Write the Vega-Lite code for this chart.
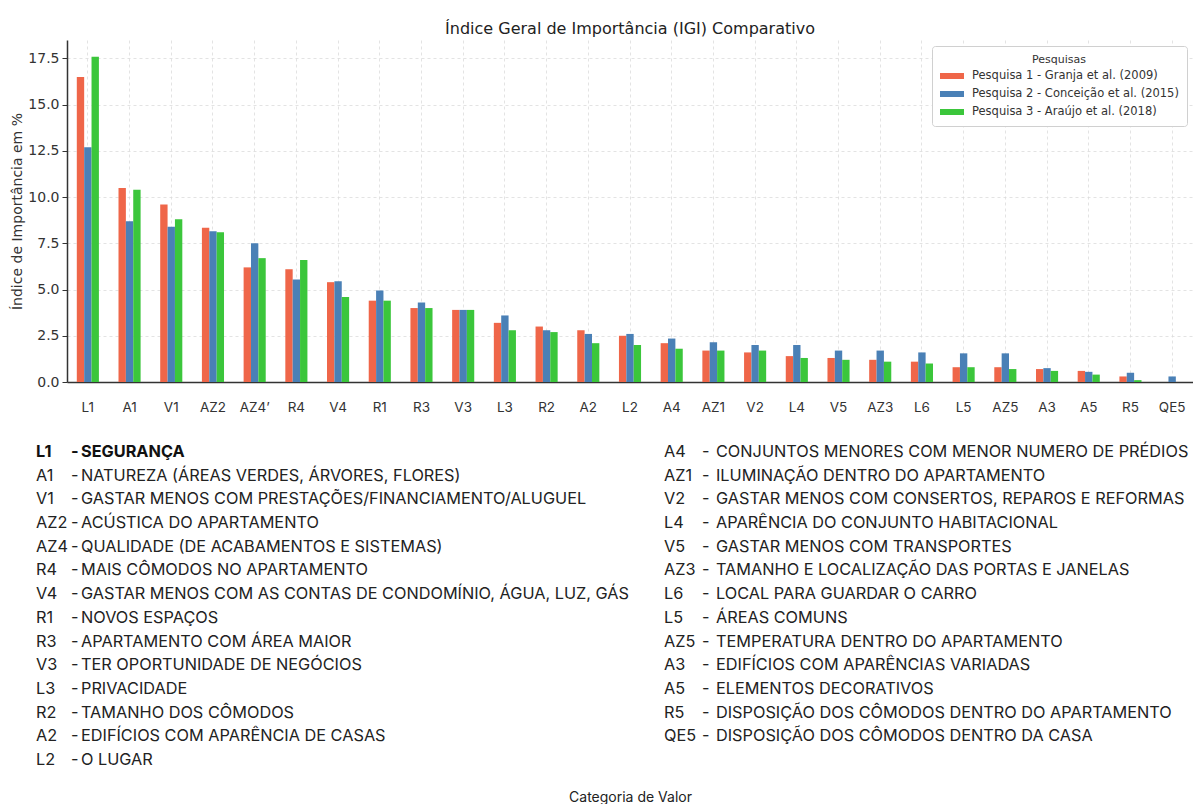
{
  "$schema": "https://vega.github.io/schema/vega-lite/v6.json",
  "padding": {"left": 10, "top": 21, "right": 0, "bottom": 0},
  "background": "white",
  "config": {"view": {"stroke": null}},
  "spacing": 28,
  "resolve": {"legend": {"color": "independent"}, "scale": {"x": "independent", "y": "independent"}},
  "datasets": {
    "igi": [
      {"cat": "L1", "p1": 16.5, "p2": 12.7, "p3": 17.6},
      {"cat": "A1", "p1": 10.5, "p2": 8.7, "p3": 10.4},
      {"cat": "V1", "p1": 9.6, "p2": 8.4, "p3": 8.8},
      {"cat": "AZ2", "p1": 8.35, "p2": 8.15, "p3": 8.1},
      {"cat": "AZ4’", "p1": 6.2, "p2": 7.5, "p3": 6.7},
      {"cat": "R4", "p1": 6.1, "p2": 5.55, "p3": 6.6},
      {"cat": "V4", "p1": 5.4, "p2": 5.45, "p3": 4.6},
      {"cat": "R1", "p1": 4.4, "p2": 4.95, "p3": 4.4},
      {"cat": "R3", "p1": 4.0, "p2": 4.3, "p3": 4.0},
      {"cat": "V3", "p1": 3.9, "p2": 3.9, "p3": 3.9},
      {"cat": "L3", "p1": 3.2, "p2": 3.6, "p3": 2.8},
      {"cat": "R2", "p1": 3.0, "p2": 2.8, "p3": 2.7},
      {"cat": "A2", "p1": 2.8, "p2": 2.6, "p3": 2.1},
      {"cat": "L2", "p1": 2.5, "p2": 2.6, "p3": 2.0},
      {"cat": "A4", "p1": 2.1, "p2": 2.35, "p3": 1.8},
      {"cat": "AZ1", "p1": 1.7, "p2": 2.15, "p3": 1.7},
      {"cat": "V2", "p1": 1.6, "p2": 2.0, "p3": 1.7},
      {"cat": "L4", "p1": 1.4, "p2": 2.0, "p3": 1.3},
      {"cat": "V5", "p1": 1.3, "p2": 1.7, "p3": 1.2},
      {"cat": "AZ3", "p1": 1.2, "p2": 1.7, "p3": 1.1},
      {"cat": "L6", "p1": 1.1, "p2": 1.6, "p3": 1.0},
      {"cat": "L5", "p1": 0.8, "p2": 1.55, "p3": 0.8},
      {"cat": "AZ5", "p1": 0.8, "p2": 1.55, "p3": 0.7},
      {"cat": "A3", "p1": 0.7, "p2": 0.75, "p3": 0.6},
      {"cat": "A5", "p1": 0.6, "p2": 0.55, "p3": 0.4},
      {"cat": "R5", "p1": 0.3, "p2": 0.5, "p3": 0.1},
      {"cat": "QE5", "p1": 0, "p2": 0.3, "p3": 0}
    ],
    "lista": [
      {"col": 1, "row": 1, "code": "L1", "desc": "SEGURANÇA"},
      {"col": 1, "row": 2, "code": "A1", "desc": "NATUREZA (ÁREAS VERDES, ÁRVORES, FLORES)"},
      {"col": 1, "row": 3, "code": "V1", "desc": "GASTAR MENOS COM PRESTAÇÕES/FINANCIAMENTO/ALUGUEL"},
      {"col": 1, "row": 4, "code": "AZ2", "desc": "ACÚSTICA DO APARTAMENTO"},
      {"col": 1, "row": 5, "code": "AZ4", "desc": "QUALIDADE (DE ACABAMENTOS E SISTEMAS)"},
      {"col": 1, "row": 6, "code": "R4", "desc": "MAIS CÔMODOS NO APARTAMENTO"},
      {"col": 1, "row": 7, "code": "V4", "desc": "GASTAR MENOS COM AS CONTAS DE CONDOMÍNIO, ÁGUA, LUZ, GÁS"},
      {"col": 1, "row": 8, "code": "R1", "desc": "NOVOS ESPAÇOS"},
      {"col": 1, "row": 9, "code": "R3", "desc": "APARTAMENTO COM ÁREA MAIOR"},
      {"col": 1, "row": 10, "code": "V3", "desc": "TER OPORTUNIDADE DE NEGÓCIOS"},
      {"col": 1, "row": 11, "code": "L3", "desc": "PRIVACIDADE"},
      {"col": 1, "row": 12, "code": "R2", "desc": "TAMANHO DOS CÔMODOS"},
      {"col": 1, "row": 13, "code": "A2", "desc": "EDIFÍCIOS COM APARÊNCIA DE CASAS"},
      {"col": 1, "row": 14, "code": "L2", "desc": "O LUGAR"},
      {"col": 2, "row": 1, "code": "A4", "desc": "CONJUNTOS MENORES COM MENOR NUMERO DE PRÉDIOS"},
      {"col": 2, "row": 2, "code": "AZ1", "desc": "ILUMINAÇÃO DENTRO DO APARTAMENTO"},
      {"col": 2, "row": 3, "code": "V2", "desc": "GASTAR MENOS COM CONSERTOS, REPAROS E REFORMAS"},
      {"col": 2, "row": 4, "code": "L4", "desc": "APARÊNCIA DO CONJUNTO HABITACIONAL"},
      {"col": 2, "row": 5, "code": "V5", "desc": "GASTAR MENOS COM TRANSPORTES"},
      {"col": 2, "row": 6, "code": "AZ3", "desc": "TAMANHO E LOCALIZAÇÃO DAS PORTAS E JANELAS"},
      {"col": 2, "row": 7, "code": "L6", "desc": "LOCAL PARA GUARDAR O CARRO"},
      {"col": 2, "row": 8, "code": "L5", "desc": "ÁREAS COMUNS"},
      {"col": 2, "row": 9, "code": "AZ5", "desc": "TEMPERATURA DENTRO DO APARTAMENTO"},
      {"col": 2, "row": 10, "code": "A3", "desc": "EDIFÍCIOS COM APARÊNCIAS VARIADAS"},
      {"col": 2, "row": 11, "code": "A5", "desc": "ELEMENTOS DECORATIVOS"},
      {"col": 2, "row": 12, "code": "R5", "desc": "DISPOSIÇÃO DOS CÔMODOS DENTRO DO APARTAMENTO"},
      {"col": 2, "row": 13, "code": "QE5", "desc": "DISPOSIÇÃO DOS CÔMODOS DENTRO DA CASA"}
    ]
  },
  "vconcat": [
    {
      "width": 1126,
      "height": 342,
      "title": {"text": "Índice Geral de Importância (IGI) Comparativo", "font": "DejaVu Sans", "fontSize": 16, "fontWeight": "normal", "color": "#222", "anchor": "middle", "offset": 3},
      "data": {"name": "igi"},
      "transform": [
        {"fold": ["p1", "p2", "p3"], "as": ["key", "value"]},
        {"lookup": "key", "from": {"data": {"values": [
          {"key": "p1", "pesquisa": "Pesquisa 1 - Granja et al. (2009)"},
          {"key": "p2", "pesquisa": "Pesquisa 2 - Conceição et al. (2015)"},
          {"key": "p3", "pesquisa": "Pesquisa 3 - Araújo et al. (2018)"}
        ]}, "key": "key", "fields": ["pesquisa"]}}
      ],
      "mark": {"type": "bar"},
      "encoding": {
        "x": {
          "field": "cat", "type": "nominal", "sort": null,
          "scale": {"paddingInner": 0.47, "paddingOuter": 0.235},
          "axis": {
            "title": null, "labelAngle": 0, "labelFont": "Inter", "labelFontSize": 13.5, "labelColor": "#333",
            "labelPadding": 22, "tickSize": -4, "tickColor": "#333", "tickWidth": 1.5, "domainColor": "#333", "domainWidth": 1.5,
            "grid": true, "gridColor": "#dcdcdc", "gridDash": [3, 3], "gridWidth": 0.8, "bandPosition": 0.5
          }
        },
        "xOffset": {"field": "pesquisa", "type": "nominal", "scale": {"paddingInner": 0, "paddingOuter": 0}},
        "y": {
          "field": "value", "type": "quantitative",
          "scale": {"domain": [0, 18.5], "nice": false, "zero": true},
          "axis": {
            "title": "Índice de Importância em %", "titleFont": "DejaVu Sans", "titleFontSize": 14, "titleFontWeight": "normal", "titleColor": "#333", "titlePadding": 3,
            "labelFont": "DejaVu Sans", "labelFontSize": 14, "labelColor": "#333", "labelPadding": 3,
            "values": [0, 2.5, 5, 7.5, 10, 12.5, 15, 17.5], "format": ".1f",
            "tickSize": 5, "tickColor": "#333", "domainColor": "#333", "domainWidth": 1.5,
            "grid": true, "gridColor": "#dcdcdc", "gridDash": [3, 3], "gridWidth": 0.8
          }
        },
        "color": {
          "field": "pesquisa", "type": "nominal",
          "scale": {"range": ["#EF6649", "#4A80B6", "#3BC63B"]},
          "legend": {
            "title": "Pesquisas", "orient": "top-right", "offset": 6,
            "titleFont": "DejaVu Sans", "titleFontSize": 11, "titleFontWeight": "normal", "titleColor": "#333", "titleAnchor": "middle", "titlePadding": 5,
            "labelFont": "DejaVu Sans", "labelFontSize": 11.5, "labelColor": "#333", "labelLimit": 0, "labelOffset": 20,
            "symbolType": "M-1,-0.5H3V0.5H-1Z", "symbolSize": 144, "symbolStrokeWidth": 0, "symbolOpacity": 1,
            "rowPadding": 6, "padding": 8, "strokeColor": "#d0d0d0", "fillColor": "white", "cornerRadius": 3
          }
        }
      }
    },
    {
      "width": 1126,
      "height": 330,
      "data": {"name": "lista"},
      "encoding": {
        "x": {"field": "col", "type": "quantitative", "scale": {"domain": [1.0494, 2.8424], "nice": false, "zero": false},
          "axis": {"title": "Categoria de Valor", "titleFont": "Inter", "titleFontSize": 14, "titleFontWeight": "normal", "titleColor": "#222", "titlePadding": 18,
            "labels": false, "ticks": false, "domain": false, "grid": false}},
        "y": {"field": "row", "type": "quantitative", "scale": {"domain": [0.578, 14.508], "nice": false, "zero": false, "reverse": true}, "axis": null}
      },
      "layer": [
        {"transform": [{"filter": "datum.code != 'L1'"}],
         "mark": {"type": "text", "align": "left", "baseline": "middle", "font": "Inter", "fontSize": 16.3, "color": "#222"},
         "encoding": {"text": {"field": "code"}}},
        {"transform": [{"filter": "datum.code == 'L1'"}],
         "mark": {"type": "text", "align": "left", "baseline": "middle", "font": "Inter", "fontSize": 16.3, "fontWeight": "bold", "color": "#111"},
         "encoding": {"text": {"field": "code"}}},
        {"transform": [{"filter": "datum.col == 1 && datum.code != 'L1'"}],
         "mark": {"type": "text", "align": "left", "baseline": "middle", "font": "Inter", "fontSize": 16.3, "color": "#222", "dx": 35},
         "encoding": {"text": {"value": "-"}}},
        {"transform": [{"filter": "datum.code == 'L1'"}],
         "mark": {"type": "text", "align": "left", "baseline": "middle", "font": "Inter", "fontSize": 16.3, "fontWeight": "bold", "color": "#111", "dx": 35},
         "encoding": {"text": {"value": "-"}}},
        {"transform": [{"filter": "datum.col == 2"}],
         "mark": {"type": "text", "align": "left", "baseline": "middle", "font": "Inter", "fontSize": 16.3, "color": "#222", "dx": 38},
         "encoding": {"text": {"value": "-"}}},
        {"transform": [{"filter": "datum.col == 1 && datum.code != 'L1'"}],
         "mark": {"type": "text", "align": "left", "baseline": "middle", "font": "Inter", "fontSize": 16.3, "color": "#222", "dx": 45},
         "encoding": {"text": {"field": "desc"}}},
        {"transform": [{"filter": "datum.code == 'L1'"}],
         "mark": {"type": "text", "align": "left", "baseline": "middle", "font": "Inter", "fontSize": 16.3, "fontWeight": "bold", "color": "#111", "dx": 45},
         "encoding": {"text": {"field": "desc"}}},
        {"transform": [{"filter": "datum.col == 2"}],
         "mark": {"type": "text", "align": "left", "baseline": "middle", "font": "Inter", "fontSize": 16.3, "color": "#222", "dx": 52},
         "encoding": {"text": {"field": "desc"}}}
      ]
    }
  ]
}
